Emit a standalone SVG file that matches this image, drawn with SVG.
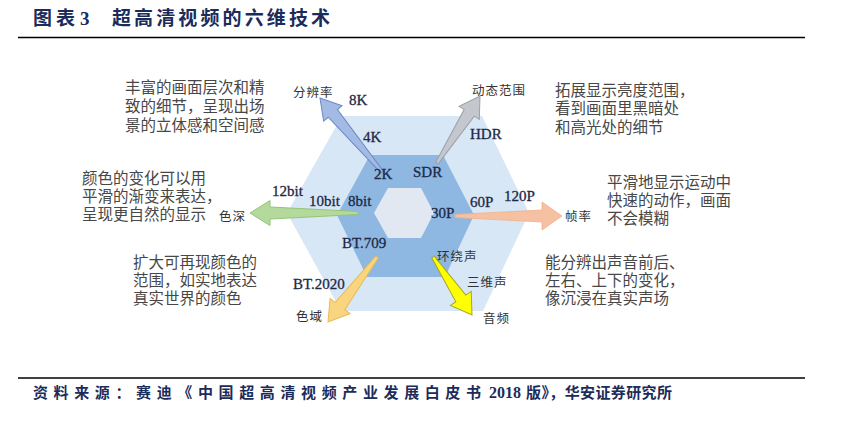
<svg xmlns="http://www.w3.org/2000/svg" width="842" height="445" viewBox="0 0 842 445">
<style>
.ttl{font-family:"Noto Sans CJK SC","Noto Sans",sans-serif;font-weight:bold;fill:#1b2b5a;}
.num{font-family:"Liberation Serif","DejaVu Serif",serif;font-weight:bold;fill:#1b2b5a;}
.desc{font-family:"Noto Sans CJK SC","Noto Sans",sans-serif;font-size:15.5px;fill:#474747;}
.lat{font-family:"Liberation Serif","DejaVu Serif",serif;font-size:15px;fill:#1c2946;stroke:#1c2946;stroke-width:0.3;}
.cn{font-family:"Noto Sans CJK SC","Noto Sans",sans-serif;font-size:12.5px;fill:#333;letter-spacing:1px;}
.rule{stroke:#000;stroke-width:1.5;}
</style>
<rect width="842" height="445" fill="#fff"/>
<g id="title">
<text class="ttl" x="33" y="25" font-size="19" textLength="42" lengthAdjust="spacing">图表</text>
<text class="num" x="80" y="25" font-size="19">3</text>
<text class="ttl" x="112" y="25" font-size="19" textLength="218" lengthAdjust="spacing">超高清视频的六维技术</text>
<line class="rule" x1="18" y1="37.5" x2="805" y2="37.5"/>
</g>
<g id="hexagons">
<polygon points="342,116 482,116 529,213 483,311 341,311 287,213" fill="#d8e7f6"/>
<polygon points="370,155 443,155 474,215 445,277 367,277 337,215" fill="#8eb7e2"/>
<polygon points="388,188 421,188 434,213 421,238 388,238 374,213" fill="#e2e8f1"/>
</g>
<g id="connectors" stroke-linejoin="miter">
<polygon transform="translate(382,172) rotate(-130)" points="0,-1.5 76.5,-6 76.5,-12 96.5,0 76.5,12 76.5,6 0,1.5" fill="#a3bae5" stroke="#6a8ac4" stroke-width="1"/>
<polygon transform="translate(437,163) rotate(-57.3)" points="0,-1.5 59.6,-6 59.6,-12 79.6,0 59.6,12 59.6,6 0,1.5" fill="#c4c7cd" stroke="#9aa0a9" stroke-width="1"/>
<polygon transform="translate(358,213) rotate(180)" points="0,-1.5 88,-6 88,-12.5 108,0 88,12.5 88,6 0,1.5" fill="#b4d99c" stroke="#93c477" stroke-width="1"/>
<polygon transform="translate(455,216) rotate(0)" points="0,-1.5 87,-6 87,-14 107,0 87,14 87,6 0,1.5" fill="#f6c1a2" stroke="#f2b08a" stroke-width="0.8"/>
<polygon transform="translate(377,257) rotate(127)" points="0,-1.5 61.4,-6 61.4,-12.5 81.4,0 61.4,12.5 61.4,6 0,1.5" fill="#f9d580" stroke="#e9bb55" stroke-width="1"/>
<polygon transform="translate(433,257) rotate(56.1)" points="0,-1.5 49.9,-6 49.9,-12.5 69.9,0 49.9,12.5 49.9,6 0,1.5" fill="#ffff00" stroke="#a6a630" stroke-width="1"/>
</g>
<g id="resolution">
<text class="cn" x="293" y="97">分辨率</text>
<text class="lat" x="349" y="105">8K</text>
<text class="lat" x="363" y="142">4K</text>
<text class="lat" x="374" y="179">2K</text>
<text class="desc" x="125" y="93">丰富的画面层次和精</text>
<text class="desc" x="125" y="112">致的细节，呈现出场</text>
<text class="desc" x="125" y="131">景的立体感和空间感</text>
</g>
<g id="dynamic-range">
<text class="cn" x="472" y="95" letter-spacing="1.5">动态范围</text>
<text class="lat" x="470" y="139">HDR</text>
<text class="lat" x="413" y="177">SDR</text>
<text class="desc" x="555" y="96">拓展显示亮度范围，</text>
<text class="desc" x="555" y="114">看到画面里黑暗处</text>
<text class="desc" x="555" y="133">和高光处的细节</text>
</g>
<g id="color-depth">
<text class="cn" x="219" y="221">色深</text>
<text class="lat" x="272" y="196">12bit</text>
<text class="lat" x="309" y="206">10bit</text>
<text class="lat" x="348" y="206">8bit</text>
<text class="desc" x="82" y="184">颜色的变化可以用</text>
<text class="desc" x="82" y="202">平滑的渐变来表达，</text>
<text class="desc" x="82" y="220">呈现更自然的显示</text>
</g>
<g id="frame-rate">
<text class="cn" x="565" y="221">帧率</text>
<text class="lat" x="431" y="218">30P</text>
<text class="lat" x="470" y="207">60P</text>
<text class="lat" x="504" y="201">120P</text>
<text class="desc" x="607" y="188">平滑地显示运动中</text>
<text class="desc" x="607" y="206">快速的动作，画面</text>
<text class="desc" x="607" y="224">不会模糊</text>
</g>
<g id="color-gamut">
<text class="cn" x="296" y="321">色域</text>
<text class="lat" x="342" y="248">BT.709</text>
<text class="lat" x="293" y="289">BT.2020</text>
<text class="desc" x="133" y="268">扩大可再现颜色的</text>
<text class="desc" x="133" y="286">范围，如实地表达</text>
<text class="desc" x="133" y="304">真实世界的颜色</text>
</g>
<g id="audio">
<text class="cn" x="437" y="261">环绕声</text>
<text class="cn" x="467" y="287">三维声</text>
<text class="cn" x="483" y="323">音频</text>
<text class="desc" x="545" y="268">能分辨出声音前后、</text>
<text class="desc" x="545" y="286">左右、上下的变化，</text>
<text class="desc" x="545" y="304">像沉浸在真实声场</text>
</g>
<g id="footer">
<line class="rule" x1="18" y1="378" x2="805" y2="378"/>
<text class="ttl" x="33" y="398" font-size="15" textLength="448" lengthAdjust="spacing">资料来源：赛迪《中国超高清视频产业发展白皮书</text>
<text class="num" x="489" y="398" font-size="16">2018</text>
<text class="ttl" x="526" y="398" font-size="15" textLength="146" lengthAdjust="spacing">版》，华安证券研究所</text>
</g>
</svg>
